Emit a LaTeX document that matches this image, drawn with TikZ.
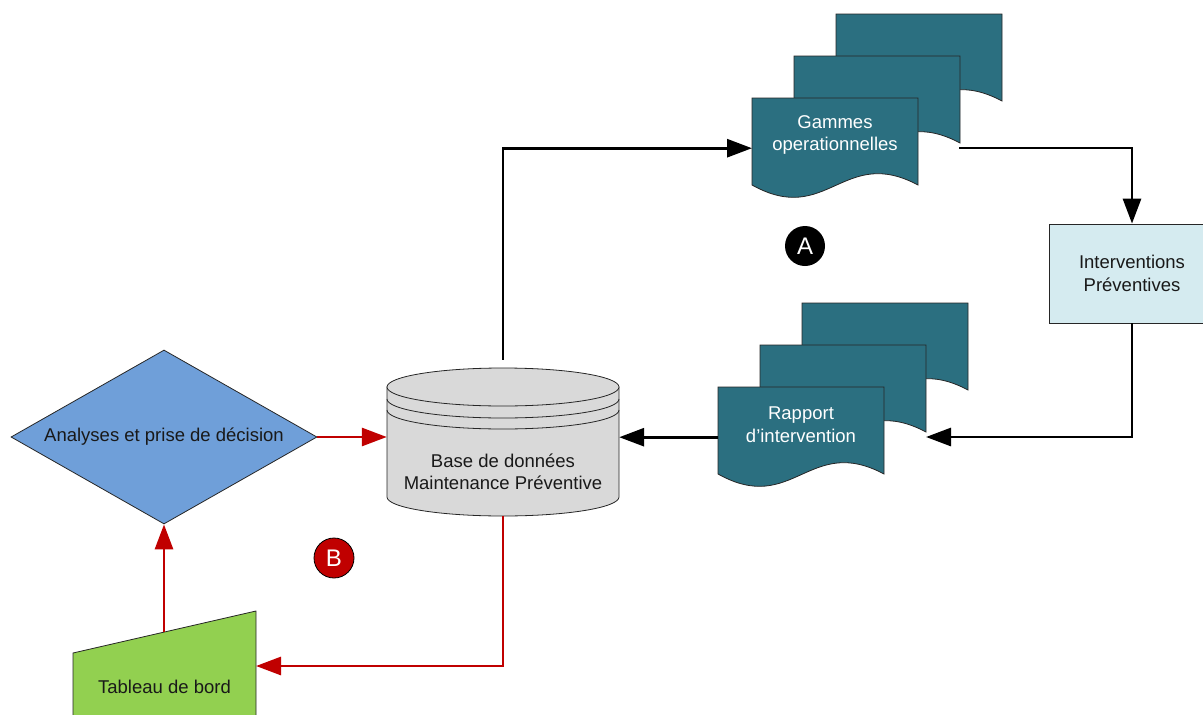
\documentclass[tikz,border=0pt]{standalone}
\usepackage{fontspec}
\setmainfont{Liberation Sans}
\usetikzlibrary{shapes.geometric,arrows.meta}

\definecolor{docteal}{HTML}{2B6F80}
\definecolor{dbgray}{HTML}{D9D9D9}
\definecolor{decblue}{HTML}{6F9FD9}
\definecolor{boardgreen}{HTML}{92D050}
\definecolor{intblue}{HTML}{D5EBF0}
\definecolor{flowred}{HTML}{C00000}

\tikzset{
  outline/.style={draw=black!85, line width=0.8pt},
  sheet/.style={outline, fill=docteal},
  docport/.style={rectangle, minimum width=166pt, minimum height=100pt, inner sep=0pt, anchor=north west},
  doctxt/.style={text=white, align=center, font=\fontsize{18.5}{22.5}\selectfont},
  darktxt/.style={text=black!90, align=center, font=\fontsize{18.5}{22.5}\selectfont},
  blk/.style={draw=black, line width=2.9pt, -{Triangle[length=25pt,width=18pt]}},
  redl/.style={draw=flowred, line width=2.9pt, -{Triangle[length=25pt,width=18pt]}},
  badge/.style={circle, minimum size=40pt, inner sep=0pt, text=white, font=\fontsize{24}{24}\selectfont},
}

% one sheet of a document stack, given by its top-left corner
\newcommand{\wavesheet}[2]{%
  \begin{scope}[shift={(#1,#2)}]
    \path[sheet] (0,0) -- (166,0) -- (166,87)
      .. controls (91,47) and (75,129) .. (0,87) -- cycle;
  \end{scope}}

\begin{document}
\begin{tikzpicture}[x=1pt,y=-1pt]
  \useasboundingbox (0,0) rectangle (1203,715);
  \clip (0,0) rectangle (1203,715);

  % --- Gammes operationnelles (stack of three sheets)
  \wavesheet{836}{14}
  \wavesheet{794}{56}
  \wavesheet{752}{98}
  \node[docport] (gam) at (752,98) {};
  \node[doctxt] (gamtxt) at (835,135) {Gammes\\operationnelles};
  \coordinate (gamout) at (959,148);

  % --- Rapport d'intervention (stack of three sheets)
  \wavesheet{802}{303}
  \wavesheet{760}{345}
  \wavesheet{718}{387}
  \node[docport] (rap) at (718,387) {};
  \node[doctxt] (raptxt) at (801,424.5) {Rapport\\d’intervention};
  \coordinate (rapin) at (926,437);

  % --- Interventions Préventives
  \node[rectangle, outline, fill=intblue, minimum width=166pt, minimum height=99pt,
        darktxt] (intv) at (1132,273.5) {Interventions\\Préventives};

  % --- Database cylinder
  \node[rectangle, minimum width=232pt, minimum height=148pt, inner sep=0pt] (db) at (503,442) {};
  \path[outline, fill=dbgray] (387,387) -- (387,497)
     arc[start angle=180, end angle=360, x radius=116pt, y radius=19pt]
     -- (619,387) -- cycle;
  \path[outline, fill=dbgray] (503,387) ellipse [x radius=116pt, y radius=19pt];
  \draw[black!85, line width=0.8pt] (387,399) arc[start angle=180, end angle=360, x radius=116pt, y radius=19pt];
  \draw[black!85, line width=0.8pt] (387,410) arc[start angle=180, end angle=360, x radius=116pt, y radius=19pt];
  \node[darktxt] (dbtxt) at (503,472) {Base de données\\Maintenance Préventive};

  % --- Decision diamond
  \node[diamond, outline, fill=decblue, aspect=1.76, inner sep=0pt,
        minimum width=306pt, minimum height=174pt, darktxt] (dia) at (164,437)
        {Analyses et prise de décision};

  % --- Dashboard (manual input shape)
  \path[outline, fill=boardgreen] (73,653) -- (256,611) -- (256,730) -- (73,730) -- cycle;
  \node[darktxt] (tab) at (164.5,687) {Tableau de bord};
  \coordinate (tabtop) at (164,632);
  \coordinate (tabin) at (256,666);

  % --- Badges
  \node[badge, fill=black] (ba) at (805,246) {A};
  \node[badge, fill=flowred, draw=black, line width=0.8pt] (bb) at (334,558) {B};

  % --- Loop A (black)
  \draw[blk] ([yshift=8pt]db.north) |- (gam.west);
  \draw[blk] (gamout) -| (intv.north);
  \draw[blk] (intv.south) |- (rapin);
  \draw[blk] (rap.west) -- (db.east |- rap.west);

  % --- Loop B (red)
  \draw[redl] (db.south) |- (tabin);
  \draw[redl] (tabtop) -- (dia.south);
  \draw[redl] (dia.east) -- (db.west |- dia.east);
\end{tikzpicture}
\end{document}
